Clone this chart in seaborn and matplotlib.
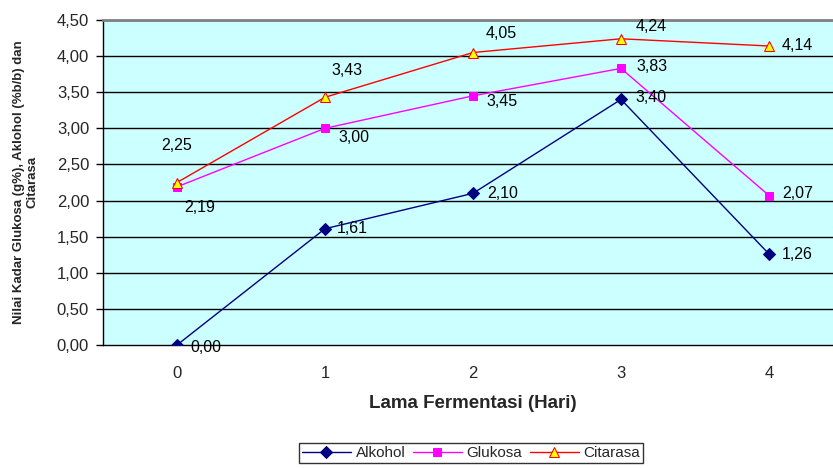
import numpy as np
import pandas as pd
import matplotlib
matplotlib.use('Agg')
import matplotlib.pyplot as plt
import seaborn as sns

# data
hari = [0, 1, 2, 3, 4]
alkohol = [0.00, 1.61, 2.10, 3.40, 1.26]
glukosa = [2.19, 3.00, 3.45, 3.83, 2.07]
citarasa = [2.25, 3.43, 4.05, 4.24, 4.14]
y_ticks = [0, 0.5, 1, 1.5, 2, 2.5, 3, 3.5, 4, 4.5]

df = pd.DataFrame({'Hari': hari, 'Alkohol': alkohol,
                   'Glukosa': glukosa, 'Citarasa': citarasa})

sns.set_style('white')
plt.rcParams['font.family'] = ['Liberation Sans', 'DejaVu Sans']

fig = plt.figure(figsize=(8.33, 4.68), dpi=100)
ax = fig.add_axes([103/833, 1 - 345/468, 740/833, 325/468])
ax.set_facecolor('#CCFFFF')

# horizontal grid lines
for v in y_ticks[1:]:
    ax.axhline(v, color='black', lw=1, zorder=1)

sns.lineplot(data=df, x='Hari', y='Alkohol', ax=ax, color='#000080', lw=1,
             marker='D', markersize=6, markeredgecolor='#000080',
             markerfacecolor='#000080', label='Alkohol', zorder=3)
sns.lineplot(data=df, x='Hari', y='Glukosa', ax=ax, color='#FF00FF', lw=1,
             marker='s', markersize=6, markeredgecolor='#FF00FF',
             markerfacecolor='#FF00FF', label='Glukosa', zorder=3)
sns.lineplot(data=df, x='Hari', y='Citarasa', ax=ax, color='#FF0000', lw=1,
             marker='^', markersize=7, markeredgecolor='#FF0000',
             markerfacecolor='#FFFF00', label='Citarasa', zorder=4)

# data labels (offsets in pixels)
offsets = {
    'Alkohol': [(13, -2), (12, 0), (14, 0), (14, 2), (13, 0)],
    'Glukosa': [(7, -21), (13, -9), (13, -6), (15, 2), (13, 2)],
    'Citarasa': [(-16, 37), (6, 27), (13, 19), (15, 12), (13, 1)],
}
for name in ['Alkohol', 'Glukosa', 'Citarasa']:
    for x, y, off in zip(hari, df[name], offsets[name]):
        ax.annotate(f'{y:.2f}'.replace('.', ','), (x, y), xytext=off,
                    textcoords='offset pixels', ha='left', va='center',
                    fontsize=11.5, color='black', zorder=5)

ax.set_xlim(-0.5, 4.5)
ax.set_ylim(0, 4.5)
ax.set_yticks(y_ticks)
ax.set_yticklabels([f'{v:.2f}'.replace('.', ',') for v in y_ticks], fontsize=12)
ax.set_xticks(hari)
ax.set_xticklabels([str(h) for h in hari], fontsize=12)
ax.set_xticks([0.5, 1.5, 2.5, 3.5], minor=True)
ax.tick_params(axis='x', which='major', length=0, pad=15)
ax.tick_params(axis='x', which='minor', length=5, width=1, color='black', direction='out')
ax.tick_params(axis='y', which='major', length=5, width=1, color='black',
               direction='out', left=True, pad=5)

for side in ['left', 'bottom']:
    ax.spines[side].set_color('black')
    ax.spines[side].set_linewidth(1)
ax.spines['top'].set_color('#808080')
ax.spines['top'].set_linewidth(2)
ax.spines['right'].set_visible(False)

ax.set_xlabel('Lama Fermentasi (Hari)', fontsize=13.5, fontweight='bold', labelpad=10)
ax.set_ylabel('')
fig.text(26/833, 1 - 182/468, 'Nilai Kadar Glukosa (g%), Aklohol (%b/b) dan\nCitarasa',
         rotation=90, ha='center', va='center', fontsize=9.5, fontweight='bold',
         linespacing=1.15)

leg = ax.legend(loc='center', bbox_to_anchor=(471/833, 1 - 453/468),
                bbox_transform=fig.transFigure, ncol=3, fontsize=11,
                frameon=True, fancybox=False, edgecolor='black',
                handlelength=3.2, columnspacing=0.5, handletextpad=0.3,
                borderpad=0.2, borderaxespad=0)
leg.get_frame().set_linewidth(1)

fig.savefig('out.png', dpi=100)
